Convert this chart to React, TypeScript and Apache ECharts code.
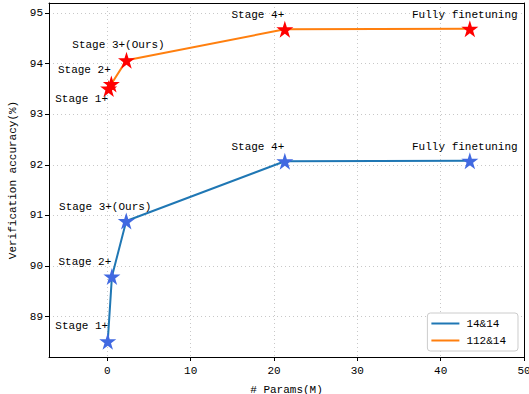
import React, { useEffect, useRef } from "react";
import * as echarts from "echarts";

const seriesNames = ["14&14", "112&14"];
const pointLabels = ["Stage 1+", "Stage 2+", "Stage 3+(Ours)", "Stage 4+", "Fully finetuning"];
const paramsA = [0.05, 0.55, 2.27, 21.3, 43.5];
const accA = [88.51, 89.79, 90.89, 92.07, 92.08];
const paramsB = [0.16, 0.48, 2.3, 21.3, 43.5];
const accB = [93.51, 93.6, 94.07, 94.68, 94.69];
const xTicks = [0, 10, 20, 30, 40, 50];
const yTicks = [89, 90, 91, 92, 93, 94, 95];

const STAR = "path://M50,0 L61.2,34.5 L97.6,34.5 L68.2,55.9 L79.4,90.5 L50,69.1 L20.6,90.5 L31.8,55.9 L2.4,34.5 L38.8,34.5 Z";
const FONT = "Liberation Mono";
const offsetsA = [[-26, -15], [-27, -15], [-21, -14], [-27, -14], [-5, -14]];
const offsetsB = [[-27, 11], [-27, -14], [-8, -15], [-27, -14], [-5, -14]];

export default function App() {
  const ref = useRef<HTMLDivElement>(null);
  useEffect(() => {
    const chart = echarts.init(ref.current!, null, { renderer: "svg" });
    const mk = (xs: number[], ys: number[], offs: number[][]) =>
      xs.map((x, i) => ({
        value: [x, ys[i]],
        label: { show: true, formatter: pointLabels[i], position: "inside", offset: offs[i] },
      }));
    const axisText = { color: "#000", fontFamily: FONT, fontSize: 11 };
    const grid = { show: true, lineStyle: { color: "#c8c8c8", type: [1, 3], width: 1 } };
    chart.setOption({
      animation: false,
      textStyle: { fontFamily: FONT },
      grid: { left: 49, right: 5, top: 3, bottom: 37, outerBoundsMode: "none", containLabel: false },
      legend: {
        orient: "vertical",
        right: 11,
        bottom: 43,
        icon: "rect",
        itemWidth: 28,
        itemHeight: 2,
        itemGap: 6,
        padding: [5, 12, 5, 4],
        borderColor: "#ccc",
        borderWidth: 1,
        borderRadius: 3,
        backgroundColor: "#fff",
        textStyle: { ...axisText, padding: [0, 0, 0, 2] },
        data: [
          { name: seriesNames[0], itemStyle: { color: "#1f77b4" } },
          { name: seriesNames[1], itemStyle: { color: "#ff7f0e" } },
        ],
      },
      xAxis: [
        {
          type: "value",
          min: -7,
          max: 50,
          splitNumber: 5,
          name: "# Params(M)",
          nameLocation: "middle",
          nameGap: 27,
          nameTextStyle: axisText,
          axisLine: { onZero: false, lineStyle: { color: "#000", width: 1 } },
          axisTick: { show: true, length: 4, customValues: xTicks, lineStyle: { color: "#000" } },
          axisLabel: {
            ...axisText,
            margin: 8,
            formatter: (v: number) => (xTicks.includes(v) ? String(v) : ""),
          },
          splitLine: grid,
        },
        {
          type: "value",
          position: "top",
          min: -7,
          max: 50,
          axisLine: { onZero: false, lineStyle: { color: "#000", width: 1 } },
          axisTick: { show: false },
          axisLabel: { show: false },
          splitLine: { show: false },
        },
      ],
      yAxis: [
        {
          type: "value",
          min: 88.2,
          max: 95.2,
          splitNumber: 7,
          name: "Verification accuracy(%)",
          nameLocation: "middle",
          nameGap: 29,
          nameTextStyle: axisText,
          axisLine: { show: true, onZero: false, lineStyle: { color: "#000", width: 1 } },
          axisTick: { show: true, length: 4, customValues: yTicks, lineStyle: { color: "#000" } },
          axisLabel: {
            ...axisText,
            margin: 6,
            formatter: (v: number) => (yTicks.includes(v) ? String(v) : ""),
          },
          splitLine: grid,
        },
        {
          type: "value",
          position: "right",
          min: 88.2,
          max: 95.2,
          axisLine: { show: true, onZero: false, lineStyle: { color: "#000", width: 1 } },
          axisTick: { show: false },
          axisLabel: { show: false },
          splitLine: { show: false },
        },
      ],
      series: [
        {
          name: seriesNames[0],
          type: "line",
          symbol: STAR,
          symbolSize: 17,
          lineStyle: { color: "#1f77b4", width: 2 },
          itemStyle: { color: "#4169e1" },
          label: { color: "#000", fontFamily: FONT, fontSize: 11 },
          data: mk(paramsA, accA, offsetsA),
        },
        {
          name: seriesNames[1],
          type: "line",
          symbol: STAR,
          symbolSize: 17,
          lineStyle: { color: "#ff7f0e", width: 2 },
          itemStyle: { color: "#ff0000" },
          label: { color: "#000", fontFamily: FONT, fontSize: 11 },
          data: mk(paramsB, accB, offsetsB),
        },
      ],
    });
    return () => chart.dispose();
  }, []);
  return (
    <div
      ref={ref}
      style={{ position: "fixed", left: 0, top: 0, width: 529, height: 394, background: "#fff" }}
    />
  );
}
